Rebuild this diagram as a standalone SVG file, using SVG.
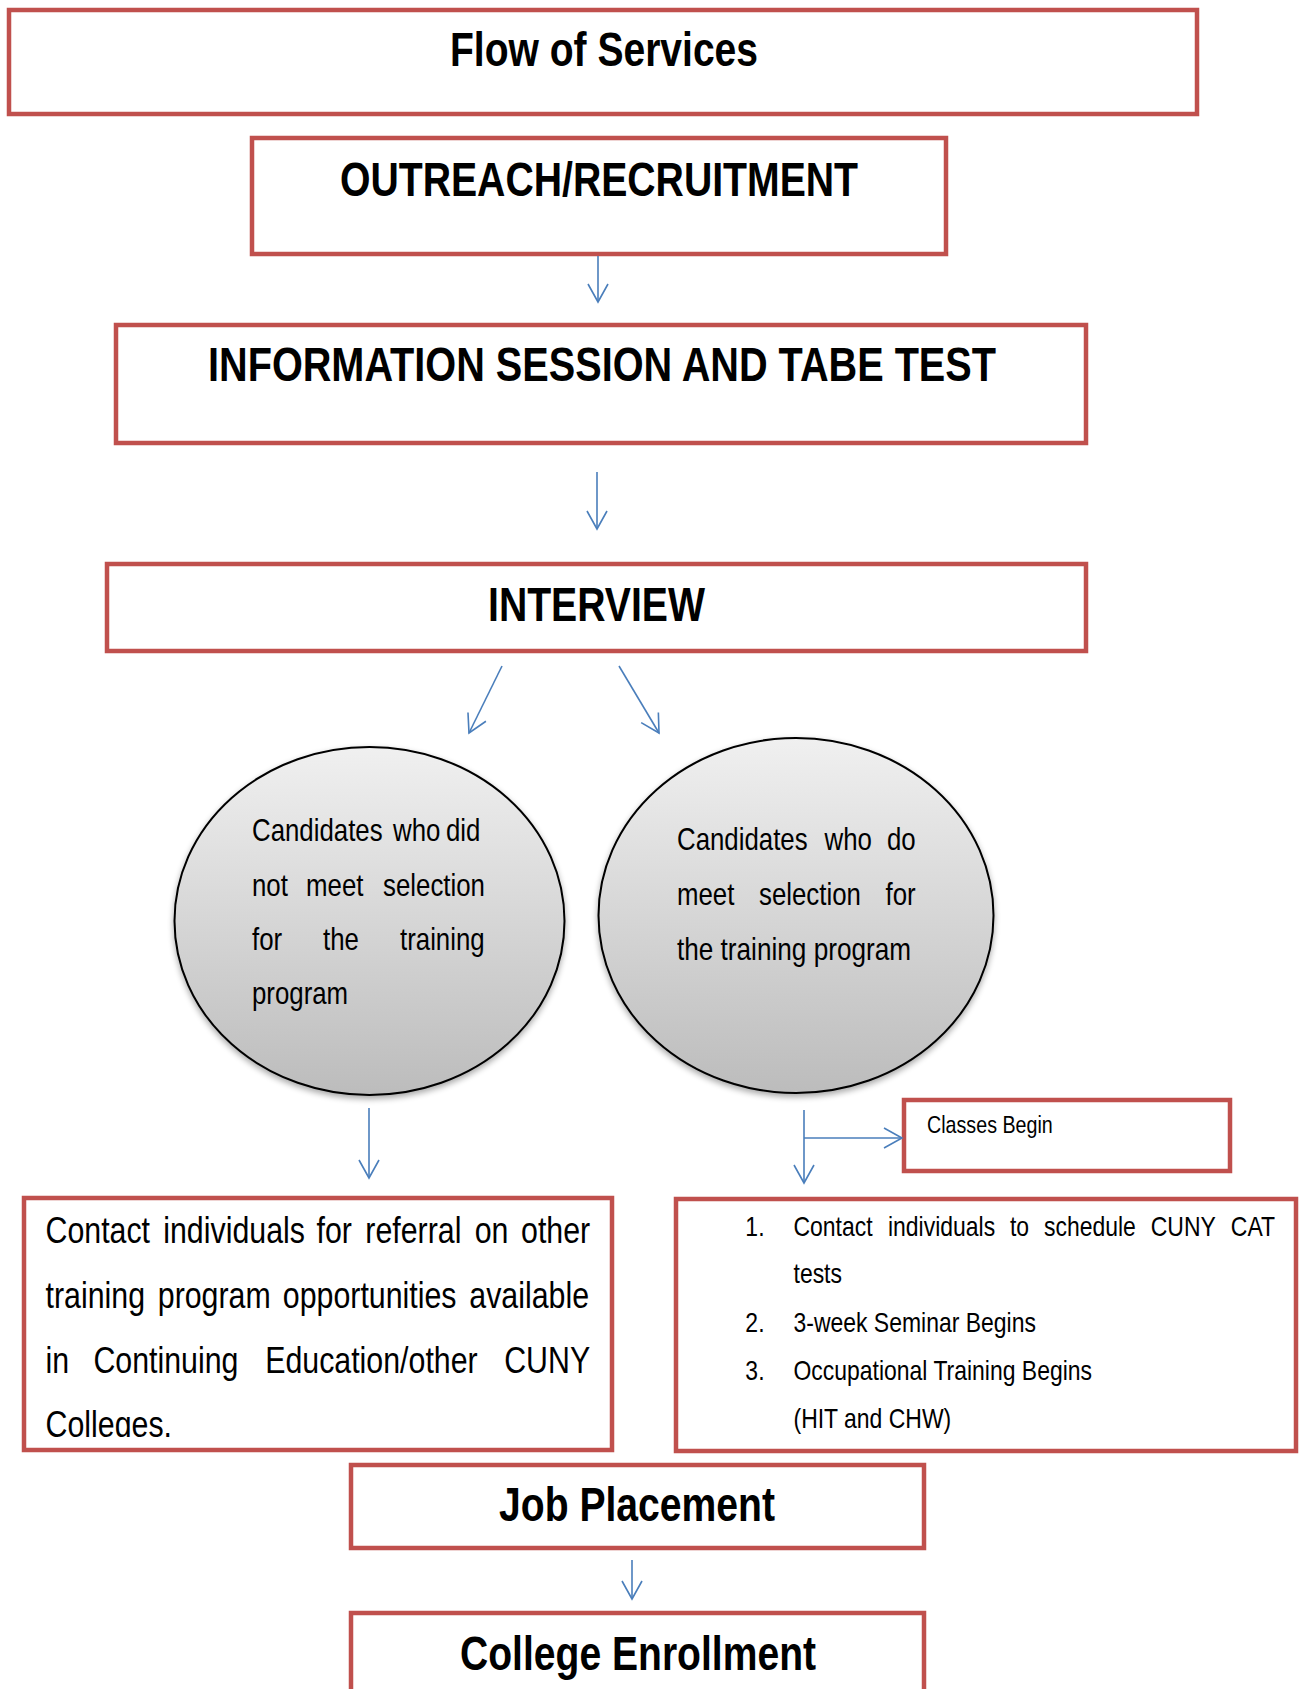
<svg xmlns="http://www.w3.org/2000/svg" width="1304" height="1689" viewBox="0 0 1304 1689">
<style>
.box{fill:#ffffff;stroke:#c0504d;stroke-width:4.5}
.h{font-family:"Liberation Sans Narrow","Liberation Sans",Arial,sans-serif;font-weight:bold;font-size:48px;fill:#000}
.t{font-family:"Liberation Sans",Arial,sans-serif;fill:#000}
.e{font-size:31.5px}
.l{font-size:37px}
.r{font-size:28px}
.ell{fill:url(#g);stroke:#000;stroke-width:2}
.con{stroke:#4a7ebb;stroke-width:1.6;fill:none}
</style>
<defs>
<linearGradient id="g" x1="0" y1="0" x2="0" y2="1">
<stop offset="0" stop-color="#f0f0f0"/>
<stop offset="1" stop-color="#bcbcbc"/>
</linearGradient>
<filter id="sh" x="-10%" y="-10%" width="120%" height="125%">
<feGaussianBlur in="SourceAlpha" stdDeviation="3"/>
<feOffset dx="0" dy="3" result="b"/>
<feComponentTransfer><feFuncA type="linear" slope="0.35"/></feComponentTransfer>
<feMerge><feMergeNode/><feMergeNode in="SourceGraphic"/></feMerge>
</filter>
<marker id="arr" viewBox="-20 -12 24 24" refX="0" refY="0" markerWidth="24" markerHeight="24" markerUnits="userSpaceOnUse" orient="auto">
<path d="M-18,-10 L0,0 L-18,10" fill="none" stroke="#4a7ebb" stroke-width="1.6"/>
</marker>
<clipPath id="clipL"><rect x="26" y="1200" width="584" height="237"/></clipPath>
</defs>

<g id="flow">
<rect class="box" x="9" y="10" width="1188" height="104"/>
<text class="h" x="450" y="66" textLength="308" lengthAdjust="spacingAndGlyphs">Flow of Services</text>
</g>

<g id="outreach">
<rect class="box" x="252" y="138" width="694" height="116"/>
<text class="h" x="340" y="196" textLength="518" lengthAdjust="spacingAndGlyphs">OUTREACH/RECRUITMENT</text>
</g>

<g id="info">
<rect class="box" x="116" y="325" width="970" height="118"/>
<text class="h" x="208" y="381" textLength="788" lengthAdjust="spacingAndGlyphs">INFORMATION SESSION AND TABE TEST</text>
</g>

<g id="interview">
<rect class="box" x="107" y="564" width="979" height="87"/>
<text class="h" x="488" y="621" textLength="217" lengthAdjust="spacingAndGlyphs">INTERVIEW</text>
</g>

<g id="not-selected">
<ellipse class="ell" cx="369.5" cy="921" rx="195" ry="174" filter="url(#sh)"/>
<g transform="scale(0.82,1)">
<text class="t e" y="841"><tspan x="307.3">Candidates</tspan><tspan x="479.3">who</tspan><tspan x="543.9">did</tspan></text>
<text class="t e" y="896"><tspan x="307.3">not</tspan><tspan x="373.2">meet</tspan><tspan x="467.1">selection</tspan></text>
<text class="t e" y="950"><tspan x="307.3">for</tspan><tspan x="393.9">the</tspan><tspan x="487.8">training</tspan></text>
<text class="t e" x="307.3" y="1004">program</text>
</g>
</g>

<g id="selected">
<ellipse class="ell" cx="796" cy="915.5" rx="197.5" ry="177.5" filter="url(#sh)"/>
<g transform="scale(0.82,1)">
<text class="t e" y="850"><tspan x="825.6">Candidates</tspan><tspan x="1005.5">who</tspan><tspan x="1081.7">do</tspan></text>
<text class="t e" y="905"><tspan x="825.6">meet</tspan><tspan x="925.6">selection</tspan><tspan x="1079.9">for</tspan></text>
<text class="t e" x="825.6" y="960" textLength="285.4" lengthAdjust="spacingAndGlyphs">the training program</text>
</g>
</g>

<g id="referral">
<rect class="box" x="24" y="1198" width="588" height="252"/>
<g clip-path="url(#clipL)">
<g transform="scale(0.82,1)">
<text class="t l" y="1243"><tspan x="55.5">Contact</tspan><tspan x="199.1">individuals</tspan><tspan x="386">for</tspan><tspan x="445.5">referral</tspan><tspan x="578.9">on</tspan><tspan x="635.4">other</tspan></text>
<text class="t l" y="1308"><tspan x="55.5">training</tspan><tspan x="192.4">program</tspan><tspan x="344.9">opportunities</tspan><tspan x="572.3">available</tspan></text>
<text class="t l" y="1373"><tspan x="55.5">in</tspan><tspan x="113.9">Continuing</tspan><tspan x="323.4">Education/other</tspan><tspan x="614.9">CUNY</tspan></text>
<text class="t l" x="55.5" y="1437">Colleges.</text>
</g>
</g>
</g>

<g id="classes">
<rect class="box" x="904" y="1100" width="326" height="71"/>
<text class="t" font-size="24" transform="scale(0.82,1)" x="1130.5" y="1133">Classes Begin</text>
</g>

<g id="steps">
<rect class="box" x="676" y="1199" width="620" height="252"/>
<g transform="scale(0.82,1)">
<text class="t r" y="1236"><tspan x="909">1.</tspan><tspan x="967.7">Contact</tspan><tspan x="1082.9">individuals</tspan><tspan x="1231.6">to</tspan><tspan x="1273.2">schedule</tspan><tspan x="1403.4">CUNY</tspan><tspan x="1501">CAT</tspan></text>
<text class="t r" x="967.7" y="1283">tests</text>
<text class="t r" y="1332"><tspan x="909">2.</tspan><tspan x="967.7">3-week Seminar Begins</tspan></text>
<text class="t r" y="1380"><tspan x="909">3.</tspan><tspan x="967.7">Occupational Training Begins</tspan></text>
<text class="t r" x="967.7" y="1428">(HIT and CHW)</text>
</g>
</g>

<g id="job">
<rect class="box" x="351" y="1465" width="573" height="83"/>
<text class="h" x="499" y="1521" textLength="276" lengthAdjust="spacingAndGlyphs">Job Placement</text>
</g>

<g id="college">
<path class="box" d="M351,1700 V1613 H924 V1700"/>
<text class="h" x="460" y="1670" textLength="356" lengthAdjust="spacingAndGlyphs">College Enrollment</text>
</g>

<g id="connectors">
<line class="con" x1="598" y1="256" x2="598" y2="302" marker-end="url(#arr)"/>
<line class="con" x1="597" y1="472" x2="597" y2="529" marker-end="url(#arr)"/>
<line class="con" x1="502" y1="666" x2="469" y2="733" marker-end="url(#arr)"/>
<line class="con" x1="619" y1="666" x2="659" y2="733" marker-end="url(#arr)"/>
<line class="con" x1="369" y1="1108" x2="369" y2="1178" marker-end="url(#arr)"/>
<line class="con" x1="804" y1="1110" x2="804" y2="1183" marker-end="url(#arr)"/>
<line class="con" x1="804" y1="1138" x2="902" y2="1138" marker-end="url(#arr)"/>
<line class="con" x1="632" y1="1560" x2="632" y2="1599" marker-end="url(#arr)"/>
</g>
</svg>
